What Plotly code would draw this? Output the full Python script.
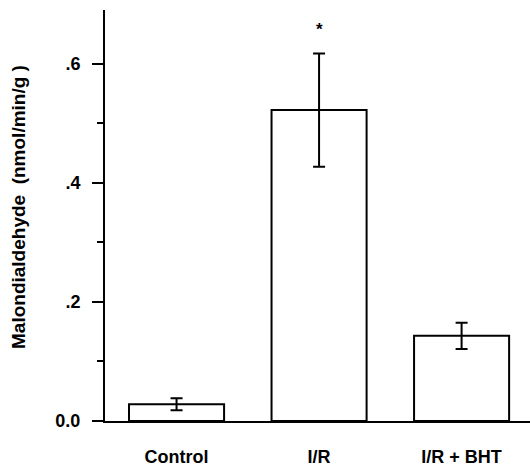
import plotly.graph_objects as go

categories = ["Control", "I/R", "I/R + BHT"]
mda_mean = [0.028, 0.522, 0.143]
mda_err = [0.010, 0.095, 0.022]
y_tickvals = [0.0, 0.2, 0.4, 0.6]
y_ticktext = ["0.0", ".2", ".4", ".6"]
significance = ["", "*", ""]

W, H = 530, 472
L, R, T, B = 105, 0, 10, 51
FONT = "Liberation Sans, Arial, sans-serif"

fig = go.Figure()
fig.add_trace(go.Bar(
    x=categories, y=mda_mean, width=0.667,
    marker=dict(color="white", line=dict(color="black", width=2)),
    error_y=dict(type="data", array=mda_err, visible=True,
                 color="black", thickness=2, width=6),
    showlegend=False,
))

for c, m, e, s in zip(categories, mda_mean, mda_err, significance):
    if s:
        fig.add_annotation(x=c, y=m + e + 0.04, text="<b>" + s + "</b>",
                           showarrow=False, font=dict(size=17, color="black", family=FONT),
                           xanchor="center", yanchor="middle")

plot_h = H - T - B
fig.add_annotation(xref="paper", yref="paper",
                   x=(18 - L) / (W - L - R), y=(H - B - 207) / plot_h,
                   text="<b>Malondialdehyde  (nmol/min/g )</b>", textangle=-90,
                   showarrow=False, xanchor="center", yanchor="middle",
                   font=dict(size=19, color="black", family=FONT))

fig.update_layout(
    width=W, height=H,
    margin=dict(l=L, r=R, t=T, b=B, pad=0),
    plot_bgcolor="white", paper_bgcolor="white",
    font=dict(family=FONT, color="black"),
    xaxis=dict(range=[-0.502, 2.48], showline=True, linecolor="black", linewidth=2,
               ticks="", showgrid=False, zeroline=False,
               tickfont=dict(size=18, color="black", family=FONT),
               ticklabelstandoff=18),
    yaxis=dict(range=[0, 0.69], showline=True, linecolor="black", linewidth=2,
               tickmode="array", tickvals=y_tickvals, ticktext=["<b>%s</b>" % t for t in y_ticktext],
               ticks="outside", ticklen=11, tickwidth=2, tickcolor="black",
               minor=dict(ticks="outside", ticklen=6, tickwidth=2, tickcolor="black",
                          tickmode="linear", tick0=0, dtick=0.1),
               showgrid=False, zeroline=False,
               tickfont=dict(size=18, color="black", family=FONT),
               ticklabelstandoff=8),
)
fig.update_xaxes(ticktext=["<b>%s</b>" % c for c in categories], tickvals=categories, tickmode="array")

fig.write_html("out.html")
